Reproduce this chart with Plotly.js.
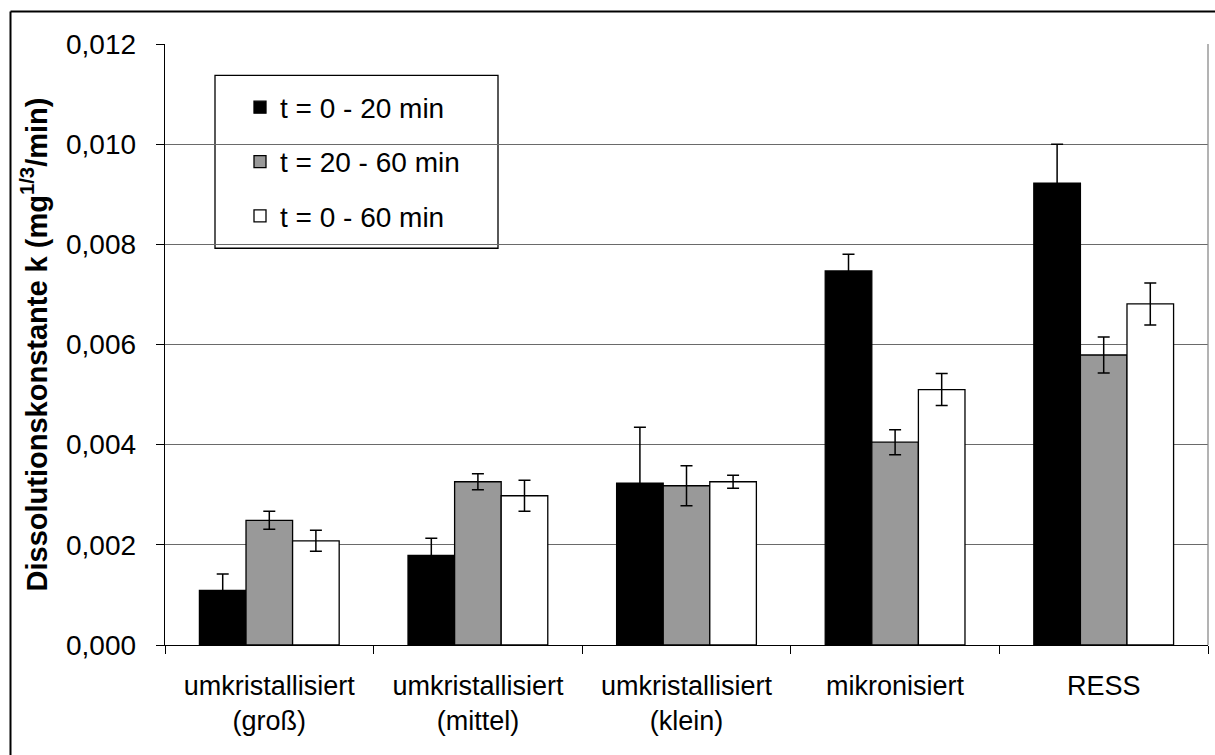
<!DOCTYPE html>
<html>
<head>
<meta charset="utf-8">
<script src="https://cdn.plot.ly/plotly-3.0.1.min.js"></script>
<style>
html,body{margin:0;padding:0;background:#fff;}
#chart{width:1215px;height:755px;}
</style>
</head>
<body>
<div id="chart"></div>
<script>
// Categories (x axis)
const categories = ['umkristallisiert<br>(groß)', 'umkristallisiert<br>(mittel)', 'umkristallisiert<br>(klein)', 'mikronisiert', 'RESS'];

// Series names
const seriesNames = ['t = 0 - 20 min', 't = 20 - 60 min', 't = 0 - 60 min'];

// Series values (Dissolutionskonstante k)
const k_0_20  = [0.00109, 0.00179, 0.00323, 0.00747, 0.00922];
const k_20_60 = [0.00249, 0.00326, 0.00318, 0.00405, 0.00579];
const k_0_60  = [0.00208, 0.00298, 0.00326, 0.00510, 0.00681];

// Error values (standard deviation)
const err_0_20  = [0.00033, 0.00034, 0.00112, 0.00033, 0.00078];
const err_20_60 = [0.00018, 0.00016, 0.00040, 0.00025, 0.00036];
const err_0_60  = [0.00021, 0.00031, 0.00013, 0.00032, 0.00042];

// Y axis ticks
const yTicks = [0, 0.002, 0.004, 0.006, 0.008, 0.010, 0.012];

const FONT = 'Liberation Sans, Arial, sans-serif';
const colors = ['#000000', '#999999', '#ffffff'];
const values = [k_0_20, k_20_60, k_0_60];
const errors = [err_0_20, err_20_60, err_0_60];

const traces = values.map((v, i) => ({
  type: 'bar',
  name: seriesNames[i],
  x: categories,
  y: v,
  legendgroup: 'g' + i,
  marker: {color: colors[i], line: {color: '#000', width: 1.3}},
  error_y: {type: 'data', array: errors[i], visible: true, color: '#000', thickness: 1.5, width: 6},
  hoverinfo: 'x+y'
}));

// pixel -> paper helpers based on margins
const L = 165, R = 7, T = 43.5, B = 109.7, W = 1215, H = 755;
const pw = W - L - R, ph = H - T - B;
const px = X => (X - L) / pw;
const py = Y => (H - B - Y) / ph;

const layout = {
  width: W, height: H,
  margin: {l: L, r: R, t: T, b: B, pad: 0},
  paper_bgcolor: '#fff',
  plot_bgcolor: '#fff',
  separators: ',.',
  font: {family: FONT, size: 27, color: '#000'},
  bargap: 0.33,
  bargroupgap: 0,
  barmode: 'group',
  showlegend: true,
  legend: {
    x: px(240), y: py(82), xanchor: 'left', yanchor: 'top',
    bgcolor: 'rgba(0,0,0,0)', borderwidth: 0,
    font: {family: FONT, size: 28, color: '#000'},
    tracegroupgap: 15,
    traceorder: 'grouped'
  },
  xaxis: {
    type: 'category',
    showline: true, linecolor: '#000', linewidth: 1.3,
    ticks: 'outside', tickson: 'boundaries', ticklen: 8, tickcolor: '#000', tickwidth: 1,
    showgrid: false, zeroline: false,
    tickfont: {family: FONT, size: 27, color: '#000'},
    ticklabelstandoff: 16,
    fixedrange: true
  },
  yaxis: {
    range: [0, 0.012],
    tickvals: yTicks,
    tickformat: '.3f',
    showline: true, linecolor: '#000', linewidth: 1.3,
    ticks: 'outside', ticklen: 8, tickcolor: '#000', tickwidth: 1,
    showgrid: true, gridcolor: '#6a6a6a', gridwidth: 1,
    zeroline: false,
    tickfont: {family: FONT, size: 28, color: '#000'},
    ticklabelstandoff: 14,
    title: {
      text: '<b>Dissolutionskonstante k (mg<sup>1/3</sup>/min)</b>',
      font: {family: FONT, size: 29, color: '#000'},
      standoff: 10
    },
    fixedrange: true
  },
  shapes: [
    // plot area right edge (gray)
    {type: 'line', xref: 'paper', yref: 'paper', x0: 1, x1: 1, y0: 0, y1: 1, line: {color: '#8a8a8a', width: 1.3}},
    // legend frame
    {type: 'rect', xref: 'paper', yref: 'paper', x0: px(215), x1: px(498), y0: py(248), y1: py(75),
     line: {color: '#000', width: 1.3}, fillcolor: '#fff', layer: 'between'},
    // outer chart border (left and top visible)
    {type: 'line', xref: 'paper', yref: 'paper', x0: px(10.5), x1: px(10.5), y0: py(760), y1: py(11), line: {color: '#000', width: 2}},
    {type: 'line', xref: 'paper', yref: 'paper', x0: px(10.5), x1: px(1220), y0: py(11), y1: py(11), line: {color: '#000', width: 2}}
  ]
};

Plotly.newPlot('chart', traces, layout, {displayModeBar: false, staticPlot: true});
</script>
</body>
</html>
